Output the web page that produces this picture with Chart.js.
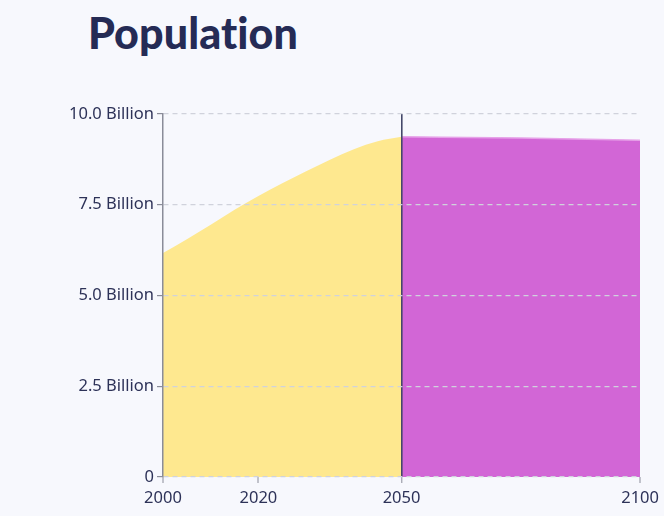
<!DOCTYPE html>
<html>
<head>
<meta charset="utf-8">
<script src="https://cdn.jsdelivr.net/npm/chart.js@4/dist/chart.umd.min.js"></script>
<style>
  html, body { margin: 0; padding: 0; background: #f7f8fd; }
  #wrap { position: relative; width: 664px; height: 516px; }
  h1 {
    position: absolute; left: 88px; top: 7px; margin: 0;
    font-family: Lato, "Open Sans", sans-serif; font-weight: 900;
    font-size: 43px; color: #252b55; letter-spacing: 0.1px;
  }
  canvas { position: absolute; left: 0; top: 0; }
</style>
</head>
<body>
<div id="wrap">
  <h1>Population</h1>
  <canvas id="c" width="664" height="516"></canvas>
</div>
<script>
// Historical / near-term estimate (billions)
const pastYears = [2000, 2005, 2010, 2015, 2020, 2025, 2030, 2035, 2040, 2045, 2050];
const pastValues = [6.17, 6.55, 6.95, 7.36, 7.74, 8.09, 8.42, 8.74, 9.03, 9.25, 9.37];
// Long-range projection (billions)
const futureYears = [2050, 2075, 2100];
const futureValues = [9.37, 9.34, 9.28];
// Axis ticks
const xTicks = [2000, 2020, 2050, 2100];
const yTicks = [0, 2.5, 5, 7.5, 10];
const splitYear = 2050;

const toPoints = (xs, ys) => xs.map((x, i) => ({ x, y: ys[i] }));

const tickFont = { family: '"Noto Sans", "Open Sans", sans-serif', size: 16.5 };
const tickColor = '#2d3258';

new Chart(document.getElementById('c'), {
  type: 'line',
  data: {
    datasets: [
      {
        data: toPoints(pastYears, pastValues),
        borderWidth: 0,
        borderColor: 'rgba(0,0,0,0)',
        backgroundColor: '#fee88f',
        fill: 'origin',
        pointRadius: 0,
        cubicInterpolationMode: 'monotone'
      },
      {
        data: toPoints(futureYears, futureValues),
        borderWidth: 1.5,
        borderColor: '#e6a2e8',
        backgroundColor: '#d266d6',
        fill: 'origin',
        pointRadius: 0,
        cubicInterpolationMode: 'monotone'
      }
    ]
  },
  options: {
    responsive: false,
    animation: false,
    layout: { padding: { left: 0, right: 21, top: 114, bottom: 0 } },
    plugins: { legend: { display: false }, tooltip: { enabled: false }, title: { display: false } },
    scales: {
      x: {
        type: 'linear',
        min: 2000,
        max: 2100,
        afterBuildTicks: (s) => { s.ticks = xTicks.map(v => ({ value: v })); },
        afterFit: (s) => { s.height = 39; },
        border: { display: false },
        grid: {
          z: 1,
          color: (ctx) => (ctx.tick && ctx.tick.value === splitYear ? '#44486a' : 'rgba(0,0,0,0)'),
          lineWidth: (ctx) => (ctx.tick && ctx.tick.value === splitYear ? 1.6 : 0),
          tickColor: '#8a8c99',
          tickLength: 6,
          tickWidth: 1
        },
        ticks: {
          color: tickColor,
          font: tickFont,
          padding: 5,
          maxRotation: 0,
          autoSkip: false,
          callback: (v) => String(v)
        }
      },
      y: {
        min: 0,
        max: 10,
        afterBuildTicks: (s) => { s.ticks = yTicks.map(v => ({ value: v })); },
        afterFit: (s) => { s.width = 163; },
        border: { display: true, color: '#8a8c99', width: 1.5, dash: [5, 4], z: 1 },
        grid: {
          z: 1,
          color: '#d0d2dc',
          lineWidth: 1.2,
          tickColor: '#8a8c99',
          tickLength: 6,
          tickBorderDash: [],
          drawTicks: true
        },
        ticks: {
          color: tickColor,
          font: tickFont,
          padding: 3,
          callback: (v) => (v === 0 ? '0' : v.toFixed(1) + ' Billion')
        }
      }
    }
  }
});
</script>
</body>
</html>
